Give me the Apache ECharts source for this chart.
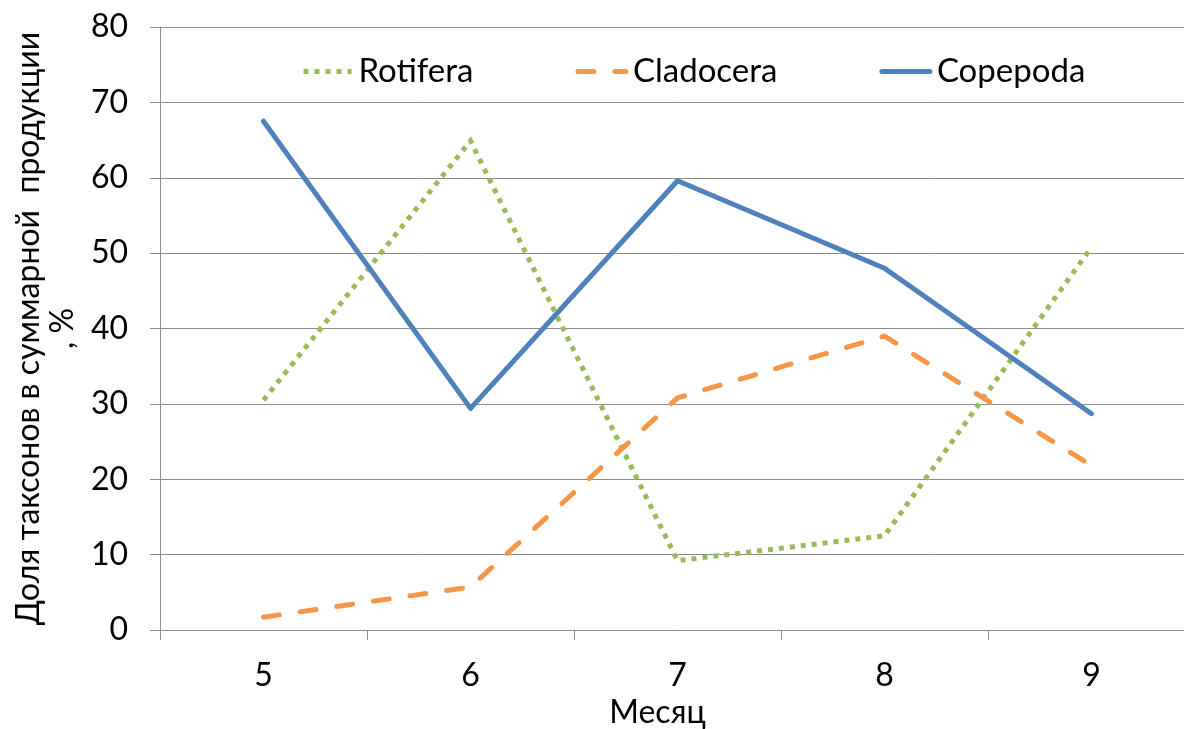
<!DOCTYPE html>
<html>
<head>
<meta charset="utf-8">
<script src="https://cdn.jsdelivr.net/npm/echarts@6/dist/echarts.min.js"></script>
<style>
  html, body { margin: 0; padding: 0; background: #fff; }
  #chart { width: 1184px; height: 729px; }
</style>
</head>
<body>
<div id="chart"></div>
<script>
// Months of observation
const months = ['5', '6', '7', '8', '9'];
// Share of each taxon in total production, %
const rotifera = [30.5, 64.9, 9.2, 12.5, 50.8];
const cladocera = [1.7, 5.7, 30.8, 39.0, 21.8];
const copepoda = [67.5, 29.4, 59.6, 48.0, 28.7];
// Value axis ticks
const yTicks = { min: 0, max: 80, interval: 10 };

const FONT = 'Lato';
const FS = 32;
const gridColor = '#8c8c8c';

const chart = echarts.init(document.getElementById('chart'), null, { renderer: 'canvas' });

chart.setOption({
  backgroundColor: '#ffffff',
  animation: false,
  textStyle: { fontFamily: FONT, color: '#000' },
  grid: { left: 160, right: -11, top: 27, bottom: 99, containLabel: false, outerBoundsMode: 'none' },
  legend: {
    top: 50,
    left: 296,
    itemWidth: 48,
    itemHeight: 10,
    itemGap: 102,
    itemStyle: { color: 'transparent', borderWidth: 0 },
    lineStyle: { width: 5 },
    textStyle: { fontFamily: FONT, fontSize: 33, color: '#000', padding: [0, 0, 0, 2] },
    data: ['Rotifera', 'Cladocera', 'Copepoda']
  },
  xAxis: {
    type: 'category',
    data: months,
    boundaryGap: true,
    name: 'Месяц',
    nameLocation: 'middle',
    nameGap: 66,
    nameTextStyle: { fontFamily: FONT, fontSize: FS, color: '#000', padding: [0, 40, 0, 0] },
    axisLine: { lineStyle: { color: gridColor, width: 1 } },
    axisTick: { show: true, interval: 0, length: 10, lineStyle: { color: gridColor } },
    axisLabel: { fontFamily: FONT, fontSize: FS, color: '#000', margin: 30 },
    splitLine: { show: false }
  },
  yAxis: {
    type: 'value',
    min: yTicks.min,
    max: yTicks.max,
    interval: yTicks.interval,
    name: 'Доля таксонов в суммарной  продукции\n, %',
    nameLocation: 'middle',
    nameRotate: 90,
    nameGap: 78,
    nameTextStyle: { fontFamily: FONT, fontSize: FS, color: '#000', lineHeight: 34 },
    axisLine: { show: true, lineStyle: { color: gridColor, width: 1 } },
    axisTick: { show: true, length: 10, lineStyle: { color: gridColor } },
    axisLabel: { fontFamily: FONT, fontSize: FS, color: '#000', margin: 32 },
    splitLine: { show: true, lineStyle: { color: gridColor, width: 1 } }
  },
  series: [
    {
      name: 'Rotifera',
      type: 'line',
      data: rotifera,
      symbol: 'none',
      color: '#9BBB59',
      lineStyle: { color: '#9BBB59', width: 5, type: [5, 6], cap: 'butt', join: 'miter' }
    },
    {
      name: 'Cladocera',
      type: 'line',
      data: cladocera,
      symbol: 'none',
      color: '#F79646',
      lineStyle: { color: '#F79646', width: 5, type: [16, 21], cap: 'round', join: 'round' }
    },
    {
      name: 'Copepoda',
      type: 'line',
      data: copepoda,
      symbol: 'none',
      color: '#4F81BD',
      lineStyle: { color: '#4F81BD', width: 5, type: 'solid', cap: 'round', join: 'round' }
    }
  ]
});
</script>
</body>
</html>
